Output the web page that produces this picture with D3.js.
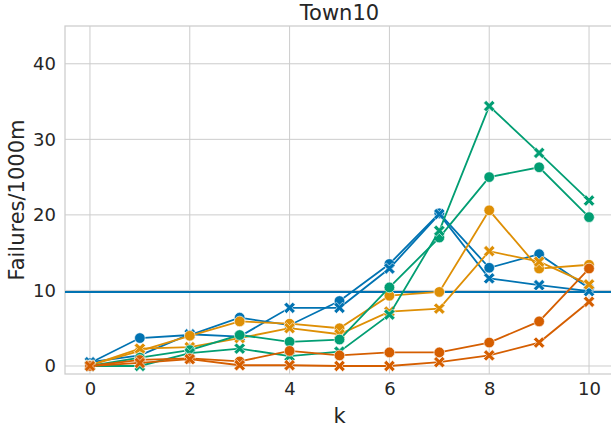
<!DOCTYPE html>
<html>
<head>
<meta charset="utf-8">
<script src="https://cdn.jsdelivr.net/npm/d3@7/dist/d3.min.js"></script>
<style>
  html, body { margin: 0; padding: 0; background: #ffffff; }
  svg { display: block; font-family: "DejaVu Sans", sans-serif; }
</style>
</head>
<body>
<svg id="chart" width="611" height="429"></svg>
<script>
// k values along the x axis
const ks = [0, 1, 2, 3, 4, 5, 6, 7, 8, 9, 10];

// failures per 1000 m for each configuration
const blueCircle   = [0.4, 3.7, 4.1, 6.4, 5.4, 8.6, 13.5, 20.2, 13.0, 14.8, 10.3];
const blueCross    = [0.5, 1.4, 4.2, 3.9, 7.7, 7.7, 12.9, 20.1, 11.6, 10.7, 9.9];
const orangeCircle = [0.1, 2.0, 4.0, 5.9, 5.6, 5.0, 9.3, 9.8, 20.6, 12.9, 13.4];
const orangeCross  = [0.1, 2.3, 2.5, 3.7, 5.0, 4.2, 7.2, 7.6, 15.2, 13.8, 10.8];
const greenCircle  = [0.0, 1.1, 2.1, 4.1, 3.2, 3.5, 10.4, 17.0, 25.0, 26.3, 19.7];
const greenCross   = [0.0, 0.0, 1.7, 2.3, 1.3, 1.9, 6.8, 17.9, 34.4, 28.2, 21.9];
const redCircle    = [0.0, 0.8, 1.0, 0.6, 2.0, 1.4, 1.8, 1.8, 3.1, 5.9, 12.9];
const redCross     = [0.0, 0.4, 0.9, 0.1, 0.1, 0.0, 0.0, 0.5, 1.4, 3.1, 8.5];

// reference level drawn as a horizontal line
const baseline = 9.8;

const xTicks = [0, 2, 4, 6, 8, 10];
const yTicks = [0, 10, 20, 30, 40];

const palette = { blue: "#0173b2", orange: "#de8f05", green: "#029e73", red: "#d55e00" };

const series = [
  { values: blueCircle,   color: palette.blue,   marker: "o" },
  { values: blueCross,    color: palette.blue,   marker: "X" },
  { values: orangeCircle, color: palette.orange, marker: "o" },
  { values: orangeCross,  color: palette.orange, marker: "X" },
  { values: greenCircle,  color: palette.green,  marker: "o" },
  { values: greenCross,   color: palette.green,  marker: "X" },
  { values: redCircle,    color: palette.red,    marker: "o" },
  { values: redCross,     color: palette.red,    marker: "X" }
];

const svg = d3.select("#chart");
const plot = { left: 65, right: 614, top: 26, bottom: 374 };

const x = d3.scaleLinear().domain([-0.5, 10.5]).range([plot.left, plot.right]);
const y = d3.scaleLinear().domain([-1.06, 45]).range([plot.bottom, plot.top]);

const textColor = "#262626";
const gridColor = "#cccccc";

// grid
const grid = svg.append("g");
grid.selectAll("line.vx").data(xTicks).join("line")
  .attr("x1", d => x(d)).attr("x2", d => x(d))
  .attr("y1", plot.top).attr("y2", plot.bottom)
  .attr("stroke", gridColor).attr("stroke-width", 1);
grid.selectAll("line.hy").data(yTicks).join("line")
  .attr("x1", plot.left).attr("x2", plot.right)
  .attr("y1", d => y(d)).attr("y2", d => y(d))
  .attr("stroke", gridColor).attr("stroke-width", 1);

// frame
svg.append("rect")
  .attr("x", plot.left).attr("y", plot.top)
  .attr("width", plot.right - plot.left).attr("height", plot.bottom - plot.top)
  .attr("fill", "none").attr("stroke", gridColor).attr("stroke-width", 1.25);

// axes (tick labels only, whitegrid style)
const xAxis = svg.append("g")
  .attr("transform", `translate(0,${plot.bottom})`)
  .call(d3.axisBottom(x).tickValues(xTicks).tickSize(0).tickPadding(8).tickFormat(d3.format("d")));
const yAxis = svg.append("g")
  .attr("transform", `translate(${plot.left},0)`)
  .call(d3.axisLeft(y).tickValues(yTicks).tickSize(0).tickPadding(9).tickFormat(d3.format("d")));
[xAxis, yAxis].forEach(a => {
  a.select(".domain").remove();
  a.selectAll("text").attr("fill", textColor).style("font-size", "18px").style("font-family", "DejaVu Sans");
});

// horizontal reference line
svg.append("line")
  .attr("x1", plot.left).attr("x2", plot.right)
  .attr("y1", y(baseline)).attr("y2", y(baseline))
  .attr("stroke", palette.blue).attr("stroke-width", 2);

// filled X marker path
function crossPath(a, w) {
  const pts = [[w, a], [w, w], [a, w], [a, -w], [w, -w], [w, -a], [-w, -a], [-w, -w], [-a, -w], [-a, w], [-w, w], [-w, a]];
  const c = Math.SQRT1_2;
  return "M" + pts.map(([px, py]) => [(px - py) * c, (px + py) * c].map(v => v.toFixed(2)).join(",")).join("L") + "Z";
}
const xPath = crossPath(6.2, 1.8);

const line = d3.line().x((d, i) => x(ks[i])).y(d => y(d));
svg.append("clipPath").attr("id", "plotclip")
  .append("rect").attr("x", plot.left).attr("y", plot.top)
  .attr("width", plot.right - plot.left).attr("height", plot.bottom - plot.top);

const marks = svg.append("g").attr("clip-path", "url(#plotclip)");
series.forEach(s => {
  const g = marks.append("g");
  g.append("path").datum(s.values)
    .attr("d", line).attr("fill", "none")
    .attr("stroke", s.color).attr("stroke-width", 1.8);
  if (s.marker === "o") {
    g.selectAll("circle").data(s.values).join("circle")
      .attr("cx", (d, i) => x(ks[i])).attr("cy", d => y(d)).attr("r", 5.3)
      .attr("fill", s.color).attr("stroke", "#ffffff").attr("stroke-width", 0.6);
  } else {
    g.selectAll("path.mk").data(s.values).join("path").attr("class", "mk")
      .attr("d", xPath)
      .attr("transform", (d, i) => `translate(${x(ks[i])},${y(d)})`)
      .attr("fill", s.color).attr("stroke", "#ffffff").attr("stroke-width", 0.6);
  }
});

// title and axis labels
svg.append("text")
  .attr("x", (plot.left + plot.right) / 2).attr("y", 20)
  .attr("text-anchor", "middle").attr("fill", textColor)
  .style("font-size", "21px").text("Town10");
svg.append("text")
  .attr("x", (plot.left + plot.right) / 2).attr("y", 423)
  .attr("text-anchor", "middle").attr("fill", textColor)
  .style("font-size", "21px").text("k");
svg.append("text")
  .attr("transform", `translate(24,${(plot.top + plot.bottom) / 2}) rotate(-90)`)
  .attr("text-anchor", "middle").attr("fill", textColor)
  .style("font-size", "21px").text("Failures/1000m");
</script>
</body>
</html>
